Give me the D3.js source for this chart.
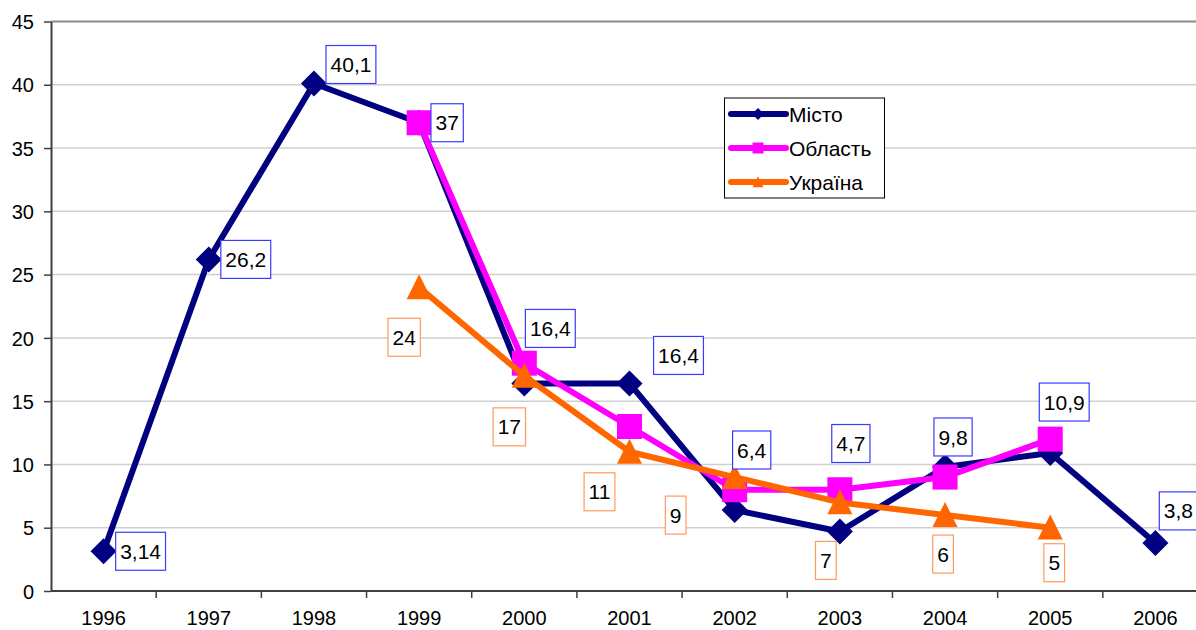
<!DOCTYPE html>
<html>
<head>
<meta charset="utf-8">
<script src="https://cdn.jsdelivr.net/npm/d3@7"></script>
<style>
  body { margin: 0; background: #fff; }
  text { font-family: "Liberation Sans", Arial, sans-serif; }
</style>
</head>
<body>
<div id="chart"></div>
<script>
// data
const years = ["1996", "1997", "1998", "1999", "2000", "2001", "2002", "2003", "2004", "2005", "2006"];
const misto = [3.14, 26.2, 40.1, 37, 16.4, 16.4, 6.4, 4.7, 9.8, 10.9, 3.8];
const oblast = [null, null, null, 37, 18, 13, 8, 8, 9, 12, null];
const ukraine = [null, null, null, 24, 17, 11, 9, 7, 6, 5, null];
const mistoLabels = ["3,14", "26,2", "40,1", "37", "16,4", "16,4", "6,4", "4,7", "9,8", "10,9", "3,8"];
const ukraineLabels = [null, null, null, "24", "17", "11", "9", "7", "6", "5", null];
const yTicks = [0, 5, 10, 15, 20, 25, 30, 35, 40, 45];

// where each label box sits relative to its point (px), placed by hand like in Excel
const mistoShift = [[37, 0], [37, 0], [37, -19], [28, 0], [26, -55], [49, -28], [17, -60], [11, -88], [8, -30], [14, -51], [23, -32]];
const ukraineShift = [null, null, null, [-15, 50], [-15, 51], [-30, 40], [-59, 38], [-14, 58], [-2, 39], [4, 35], null];

const W = 1196, H = 630;
const svg = d3.select("#chart").append("svg")
  .attr("width", W).attr("height", H);

const x = d3.scaleBand().domain(years).range([51, 1208]);
const y = d3.scaleLinear().domain([0, 45]).range([591, 21.5]);
const cx = d => x(d) + x.bandwidth() / 2;

// gridlines
svg.append("g").selectAll("line")
  .data(yTicks.filter(t => t > 0 && t < 45))
  .join("line")
  .attr("x1", 51).attr("x2", W)
  .attr("y1", d => y(d)).attr("y2", d => y(d))
  .attr("stroke", "#cfcfcf").attr("stroke-width", 1.5);

svg.append("line")
  .attr("x1", 51).attr("x2", W)
  .attr("y1", y(45)).attr("y2", y(45))
  .attr("stroke", "#8a8a8a").attr("stroke-width", 2);

// y axis
const yAxis = svg.append("g").attr("transform", "translate(51,0)")
  .call(d3.axisLeft(y).tickValues(yTicks).tickSize(7).tickSizeOuter(0));
yAxis.select(".domain").attr("stroke", "#404040").attr("stroke-width", 2);
yAxis.selectAll(".tick line").attr("stroke", "#404040").attr("stroke-width", 1.5);
yAxis.selectAll(".tick text")
  .attr("x", -17).attr("dy", "0.36em")
  .style("font-size", "20px").style("font-family", "Liberation Sans, Arial, sans-serif")
  .attr("fill", "#000");

// x axis with ticks between categories
const xAxis = svg.append("g").attr("transform", "translate(0,591)");
xAxis.append("line")
  .attr("x1", 51).attr("x2", W)
  .attr("stroke", "#404040").attr("stroke-width", 2);
xAxis.selectAll("line.tk")
  .data(years)
  .join("line").attr("class", "tk")
  .attr("x1", d => x(d) + x.bandwidth()).attr("x2", d => x(d) + x.bandwidth())
  .attr("y1", 0).attr("y2", 7)
  .attr("stroke", "#404040").attr("stroke-width", 1.5);
xAxis.selectAll("text")
  .data(years)
  .join("text")
  .attr("x", d => cx(d)).attr("y", 34)
  .attr("text-anchor", "middle")
  .style("font-size", "20px")
  .text(d => d);

// series
const series = [
  { name: "Місто", values: misto, color: "#000080", marker: "diamond" },
  { name: "Область", values: oblast, color: "#ff00ff", marker: "square" },
  { name: "Україна", values: ukraine, color: "#ff6600", marker: "triangle" }
];

const line = d3.line()
  .defined(d => d.v != null)
  .x(d => cx(d.year))
  .y(d => y(d.v));

function markerPath(type, s) {
  if (type === "diamond") return `M0,${-s}L${s},0L0,${s}L${-s},0Z`;
  if (type === "square") return `M${-s},${-s}H${s}V${s}H${-s}Z`;
  return `M0,${-s * 1.05}L${s},${s * 0.95}H${-s}Z`;
}
const markerSize = { diamond: 13, square: 12.5, triangle: 12.5 };

series.forEach(s => {
  const pts = years.map((yr, i) => ({ year: yr, v: s.values[i] }));
  svg.append("path")
    .datum(pts)
    .attr("d", line)
    .attr("fill", "none")
    .attr("stroke", s.color)
    .attr("stroke-width", 6)
    .attr("stroke-linejoin", "round");
  svg.append("g").selectAll("path")
    .data(pts.filter(p => p.v != null))
    .join("path")
    .attr("transform", p => `translate(${cx(p.year)},${y(p.v)})`)
    .attr("d", markerPath(s.marker, markerSize[s.marker]))
    .attr("fill", s.color);
});

// data labels in boxes
function drawLabels(values, labels, shifts, stroke) {
  const g = svg.append("g");
  years.forEach((yr, i) => {
    if (labels[i] == null) return;
    const px = cx(yr) + shifts[i][0];
    const py = y(values[i]) + shifts[i][1];
    const lg = g.append("g").attr("transform", `translate(${px},${py})`);
    const t = lg.append("text")
      .attr("text-anchor", "middle")
      .attr("dy", "0.36em")
      .style("font-size", "21px")
      .attr("fill", "#000")
      .text(labels[i]);
    const w = t.node().getComputedTextLength() + 9;
    lg.insert("rect", "text")
      .attr("x", -w / 2).attr("y", -19)
      .attr("width", w).attr("height", 38)
      .attr("fill", "#fff")
      .attr("stroke", stroke).attr("stroke-width", 1.2);
  });
}
drawLabels(misto, mistoLabels, mistoShift, "#3a3aff");
drawLabels(ukraine, ukraineLabels, ukraineShift, "#ff9a5c");

// legend
const legend = svg.append("g");
legend.append("rect")
  .attr("x", 724.5).attr("y", 98)
  .attr("width", 160).attr("height", 100)
  .attr("fill", "#fff").attr("stroke", "#000").attr("stroke-width", 1);
series.forEach((s, i) => {
  const ly = 114 + i * 34;
  legend.append("line")
    .attr("x1", 731).attr("x2", 786)
    .attr("y1", ly).attr("y2", ly)
    .attr("stroke", s.color).attr("stroke-width", 6)
    .attr("stroke-linecap", "round");
  legend.append("path")
    .attr("transform", `translate(758,${ly})`)
    .attr("d", markerPath(s.marker, s.marker === "diamond" ? 6 : 5.5))
    .attr("fill", s.color);
  legend.append("text")
    .attr("x", 789).attr("y", ly).attr("dy", "0.36em")
    .style("font-size", "21px")
    .attr("fill", "#000")
    .text(s.name);
});
</script>
</body>
</html>
